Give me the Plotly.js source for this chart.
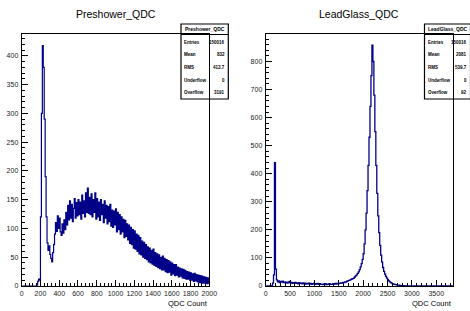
<!DOCTYPE html>
<html><head><meta charset="utf-8">
<script src="https://cdn.plot.ly/plotly-3.0.1.min.js"></script>
<style>html,body{margin:0;padding:0;background:#fff;}#plot{width:470px;height:311px;}</style>
</head><body><div id="plot"></div>
<script>
// ---- Data ----
const preTitle = 'Preshower_QDC';
const leadTitle = 'LeadGlass_QDC';
const xTitle = 'QDC Count';
const preBinWidth = 10;   // QDC counts per bin, from 0
const preCounts = [
  0,0,0,0,0,0,0,0,0,0,
  0,0,0,0,0,0,2,8,12,10,
  120,300,418,380,290,190,120,75,62,70,
  55,48,42,58,72,90,110,95,122,100,
  118,94,88,108,92,115,98,128,106,140,
  115,148,118,142,112,135,152,118,145,122,
  150,124,146,116,158,126,148,120,162,128,
  170,126,154,124,160,120,150,128,162,116,
  152,120,146,114,150,124,142,110,148,118,
  140,108,138,112,142,104,132,102,130,106,
  134,94,128,98,124,90,120,94,116,84,
  114,86,108,80,106,74,102,72,98,66,
  96,64,90,60,88,56,84,54,78,50,
  76,48,72,46,68,42,66,40,62,38,
  64,36,58,34,56,32,54,30,50,28,
  52,28,48,25,46,23,44,24,42,19,
  40,21,37,18,37,19,33,16,31,17,
  30,14,29,13,27,12,25,12,24,10,
  23,10,21,8,22,9,20,7,19,6,
  18,6,17,5,16,5,15,4,14,4
];
const leadBinWidth = 20;  // QDC counts per bin, from 0
const leadCounts = [
  0,0,0,0,0,0,0,10,40,440,
  60,22,15,18,12,16,14,17,12,15,
  11,14,10,13,16,11,13,9,12,10,
  13,9,11,8,12,9,10,8,11,8,
  10,7,9,8,10,7,9,6,8,9,
  6,8,7,9,6,8,6,7,5,7,
  6,8,5,7,6,8,6,7,6,8,
  7,9,7,9,8,10,9,11,10,13,
  12,15,14,17,18,20,21,23,25,26,
  28,32,36,40,45,50,58,68,80,95,
  115,150,200,260,340,430,530,640,750,858,
  800,680,550,430,330,250,190,145,110,85,
  66,52,42,34,28,23,18,15,12,10,
  8,7,6,5,4,3,3,2,2,1,
  1,1,1,0,0,0,0,0,0,0,
  0,0,0,0,0,0,0,0,0,0,
  0,0,0,0,0,0,0,0,0,0,
  0,0,0,0,0,0,0,0,0,0,
  0,0,0,0,0,0,0,0,0,0,
  0,0,0
];
const statLabels = ['Entries','Mean','RMS','Underflow','Overflow'];
const preStatValues = ['150016','832','413.7','0','3191'];
const leadStatValues = ['150016','2081','539.7','0','92'];

// ---- Build ----
const W = 470, H = 311;
const px = x => x / W;
const py = y => 1 - y / H;
const centers = (counts, w) => counts.map((_, i) => (i + 0.5) * w);
const lineColor = '#000088';
const FONT = 'Liberation Sans, Arial, Helvetica, sans-serif';

const traces = [
  {x: centers(preCounts, preBinWidth), y: preCounts, type: 'scatter', mode: 'lines',
   line: {shape: 'hvh', color: lineColor, width: 1.2}, xaxis: 'x', yaxis: 'y', hoverinfo: 'skip'},
  {x: centers(leadCounts, leadBinWidth), y: leadCounts, type: 'scatter', mode: 'lines',
   line: {shape: 'hvh', color: lineColor, width: 1.3}, xaxis: 'x2', yaxis: 'y2', hoverinfo: 'skip'}
];

function axis(extra) {
  return Object.assign({
    ticks: 'inside', ticklen: 6, tickwidth: 1, tickcolor: '#000',
    showline: true, mirror: true, linecolor: '#000', linewidth: 1,
    showgrid: false, zeroline: false, fixedrange: true,
    tickfont: {family: FONT, size: 7, color: '#222'},
    ticklabelstandoff: 1
  }, extra);
}

const yDom = [py(286), py(34)];
const layout = {
  width: W, height: H, margin: {l: 0, r: 0, t: 0, b: 0},
  paper_bgcolor: '#fff', plot_bgcolor: '#fff', showlegend: false,
  xaxis: axis({domain: [px(21.7), px(209.3)], range: [0, 2000], tick0: 0, dtick: 200, anchor: 'y',
    minor: {dtick: 40, ticks: 'inside', ticklen: 3, tickcolor: '#000'}}),
  yaxis: axis({domain: yDom, range: [0, 438], tick0: 0, dtick: 50, anchor: 'x',
    minor: {dtick: 10, ticks: 'inside', ticklen: 3, tickcolor: '#000'}}),
  xaxis2: axis({domain: [px(265.7), px(453.3)], range: [0, 3850], tick0: 0, dtick: 500, anchor: 'y2',
    minor: {dtick: 100, ticks: 'inside', ticklen: 3, tickcolor: '#000'}}),
  yaxis2: axis({domain: yDom, range: [0, 898], tick0: 0, dtick: 100, anchor: 'x2',
    minor: {dtick: 20, ticks: 'inside', ticklen: 3, tickcolor: '#000'}}),
  annotations: [],
  shapes: []
};

function ann(text, x, y, xanchor, size, bold) {
  layout.annotations.push({text: text, x: px(x), y: py(y), xref: 'paper', yref: 'paper',
    xanchor: xanchor, yanchor: 'middle', showarrow: false, borderpad: 0,
    font: {family: FONT, size: size, color: '#000', weight: bold ? 'bold' : 'normal'}});
}

ann(preTitle, 116, 13.5, 'center', 10.5);
ann(leadTitle, 359, 13.5, 'center', 10.5);
ann(xTitle, 209.3, 303.3, 'right', 7.5);
ann(xTitle, 453.3, 303.3, 'right', 7.5);

function statsBox(x0, x1, title, values) {
  layout.shapes.push({type: 'rect', xref: 'paper', yref: 'paper', x0: px(x0), x1: px(x1), y0: py(99), y1: py(24),
    line: {color: '#000', width: 1.2}, fillcolor: 'rgba(0,0,0,0)'});
  layout.shapes.push({type: 'line', xref: 'paper', yref: 'paper', x0: px(x0), x1: px(x1), y0: py(34.5), y1: py(34.5),
    line: {color: '#000', width: 1}});
  ann(title, (x0 + x1) / 2, 29.3, 'center', 5, true);
  const rows = [42.7, 54.7, 67.3, 80, 92.7];
  statLabels.forEach((lab, i) => {
    ann(lab, x0 + 2, rows[i], 'left', 4.5, true);
    ann(values[i], x1 - 2.5, rows[i], 'right', 4.5, true);
  });
}
statsBox(181, 228.3, preTitle, preStatValues);
statsBox(424.5, 470.5, leadTitle, leadStatValues);

Plotly.newPlot('plot', traces, layout, {staticPlot: true, displayModeBar: false});
</script>
</body></html>
